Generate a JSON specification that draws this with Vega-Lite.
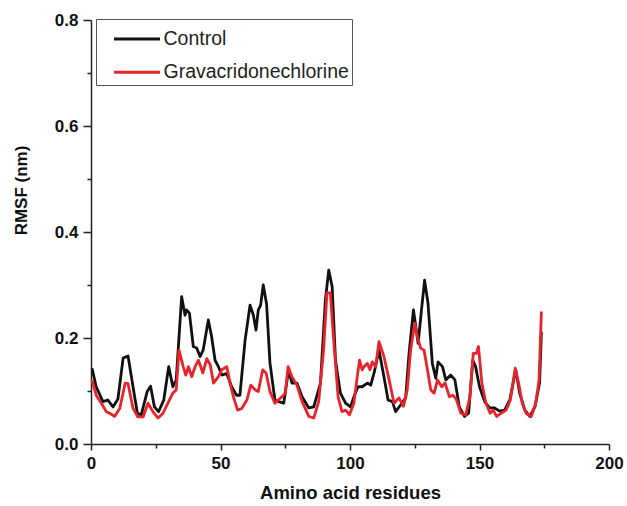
{
  "$schema": "https://vega.github.io/schema/vega-lite/v6.json",
  "width": 518,
  "height": 424,
  "autosize": {"type": "none"},
  "padding": {"left": 91, "top": 20, "right": 18, "bottom": 62},
  "background": "white",
  "config": {
    "view": {"stroke": null},
    "font": "Liberation Sans",
    "axis": {"grid": false, "domainColor": "#222", "domainWidth": 1.5, "tickColor": "#222", "tickWidth": 1.5,
      "labelFont": "Liberation Sans", "labelFontWeight": "bold", "labelFontSize": 17, "labelColor": "#111",
      "labelFlush": false, "labelOverlap": false,
      "titleFont": "Liberation Sans", "titleFontWeight": "bold", "titleColor": "#111"}
  },
  "data": {"values": [
    {"r":0.4,"v":0.143,"s":"Control"},{"r":2,"v":0.108,"s":"Control"},{"r":4.6,"v":0.080,"s":"Control"},{"r":6.5,"v":0.083,"s":"Control"},{"r":8.5,"v":0.070,"s":"Control"},{"r":10.4,"v":0.085,"s":"Control"},{"r":12.4,"v":0.162,"s":"Control"},{"r":14.3,"v":0.166,"s":"Control"},{"r":15.6,"v":0.127,"s":"Control"},{"r":17.9,"v":0.058,"s":"Control"},{"r":19.4,"v":0.055,"s":"Control"},{"r":21.7,"v":0.099,"s":"Control"},{"r":23,"v":0.109,"s":"Control"},{"r":24.5,"v":0.070,"s":"Control"},{"r":26.1,"v":0.061,"s":"Control"},{"r":28.1,"v":0.083,"s":"Control"},{"r":30,"v":0.146,"s":"Control"},{"r":31.6,"v":0.108,"s":"Control"},{"r":32.9,"v":0.121,"s":"Control"},{"r":35,"v":0.278,"s":"Control"},{"r":36.3,"v":0.243,"s":"Control"},{"r":36.9,"v":0.253,"s":"Control"},{"r":38,"v":0.247,"s":"Control"},{"r":39.5,"v":0.184,"s":"Control"},{"r":40.8,"v":0.181,"s":"Control"},{"r":42.1,"v":0.165,"s":"Control"},{"r":43.3,"v":0.177,"s":"Control"},{"r":45.3,"v":0.234,"s":"Control"},{"r":46.6,"v":0.202,"s":"Control"},{"r":47.9,"v":0.158,"s":"Control"},{"r":49.2,"v":0.146,"s":"Control"},{"r":50.5,"v":0.130,"s":"Control"},{"r":52.4,"v":0.133,"s":"Control"},{"r":54.3,"v":0.108,"s":"Control"},{"r":56.2,"v":0.092,"s":"Control"},{"r":57.5,"v":0.092,"s":"Control"},{"r":59.5,"v":0.196,"s":"Control"},{"r":61.4,"v":0.262,"s":"Control"},{"r":62.7,"v":0.243,"s":"Control"},{"r":63.7,"v":0.215,"s":"Control"},{"r":64.6,"v":0.253,"s":"Control"},{"r":65.5,"v":0.262,"s":"Control"},{"r":66.5,"v":0.300,"s":"Control"},{"r":67.8,"v":0.264,"s":"Control"},{"r":69.1,"v":0.153,"s":"Control"},{"r":71,"v":0.083,"s":"Control"},{"r":72.5,"v":0.080,"s":"Control"},{"r":74.4,"v":0.077,"s":"Control"},{"r":76.3,"v":0.140,"s":"Control"},{"r":77.6,"v":0.115,"s":"Control"},{"r":79.5,"v":0.115,"s":"Control"},{"r":81.5,"v":0.089,"s":"Control"},{"r":84.1,"v":0.068,"s":"Control"},{"r":86,"v":0.070,"s":"Control"},{"r":88.6,"v":0.115,"s":"Control"},{"r":90.5,"v":0.272,"s":"Control"},{"r":91.8,"v":0.328,"s":"Control"},{"r":93.1,"v":0.297,"s":"Control"},{"r":94.4,"v":0.158,"s":"Control"},{"r":96.3,"v":0.096,"s":"Control"},{"r":98.3,"v":0.077,"s":"Control"},{"r":100.2,"v":0.070,"s":"Control"},{"r":101.5,"v":0.089,"s":"Control"},{"r":103.1,"v":0.108,"s":"Control"},{"r":104.7,"v":0.108,"s":"Control"},{"r":106.7,"v":0.115,"s":"Control"},{"r":108,"v":0.111,"s":"Control"},{"r":109.3,"v":0.134,"s":"Control"},{"r":111.2,"v":0.177,"s":"Control"},{"r":113.1,"v":0.127,"s":"Control"},{"r":114.7,"v":0.083,"s":"Control"},{"r":116.4,"v":0.080,"s":"Control"},{"r":117.6,"v":0.061,"s":"Control"},{"r":119.6,"v":0.074,"s":"Control"},{"r":121.5,"v":0.087,"s":"Control"},{"r":122.8,"v":0.171,"s":"Control"},{"r":124.5,"v":0.253,"s":"Control"},{"r":126.3,"v":0.190,"s":"Control"},{"r":127.6,"v":0.253,"s":"Control"},{"r":128.8,"v":0.309,"s":"Control"},{"r":130.1,"v":0.266,"s":"Control"},{"r":131.8,"v":0.152,"s":"Control"},{"r":133.1,"v":0.124,"s":"Control"},{"r":134,"v":0.155,"s":"Control"},{"r":135.7,"v":0.146,"s":"Control"},{"r":137,"v":0.121,"s":"Control"},{"r":138.9,"v":0.130,"s":"Control"},{"r":140.5,"v":0.121,"s":"Control"},{"r":142.2,"v":0.070,"s":"Control"},{"r":144.2,"v":0.052,"s":"Control"},{"r":145.8,"v":0.058,"s":"Control"},{"r":147.4,"v":0.158,"s":"Control"},{"r":148.5,"v":0.146,"s":"Control"},{"r":150,"v":0.108,"s":"Control"},{"r":152,"v":0.080,"s":"Control"},{"r":153.9,"v":0.068,"s":"Control"},{"r":155.8,"v":0.068,"s":"Control"},{"r":157.8,"v":0.062,"s":"Control"},{"r":159.7,"v":0.064,"s":"Control"},{"r":161.7,"v":0.083,"s":"Control"},{"r":164,"v":0.140,"s":"Control"},{"r":165.5,"v":0.096,"s":"Control"},{"r":167.5,"v":0.064,"s":"Control"},{"r":169.4,"v":0.052,"s":"Control"},{"r":171.4,"v":0.070,"s":"Control"},{"r":173.2,"v":0.115,"s":"Control"},{"r":173.9,"v":0.212,"s":"Control"},
    {"r":0.4,"v":0.120,"s":"Gravacridonechlorine"},{"r":2,"v":0.092,"s":"Gravacridonechlorine"},{"r":4,"v":0.077,"s":"Gravacridonechlorine"},{"r":5.9,"v":0.061,"s":"Gravacridonechlorine"},{"r":7.2,"v":0.058,"s":"Gravacridonechlorine"},{"r":9.1,"v":0.052,"s":"Gravacridonechlorine"},{"r":11.1,"v":0.067,"s":"Gravacridonechlorine"},{"r":13.2,"v":0.115,"s":"Gravacridonechlorine"},{"r":14.3,"v":0.114,"s":"Gravacridonechlorine"},{"r":16.2,"v":0.068,"s":"Gravacridonechlorine"},{"r":18.1,"v":0.051,"s":"Gravacridonechlorine"},{"r":20.1,"v":0.051,"s":"Gravacridonechlorine"},{"r":22,"v":0.077,"s":"Gravacridonechlorine"},{"r":23.9,"v":0.061,"s":"Gravacridonechlorine"},{"r":25.9,"v":0.049,"s":"Gravacridonechlorine"},{"r":27.8,"v":0.058,"s":"Gravacridonechlorine"},{"r":29.7,"v":0.077,"s":"Gravacridonechlorine"},{"r":31.6,"v":0.096,"s":"Gravacridonechlorine"},{"r":32.9,"v":0.102,"s":"Gravacridonechlorine"},{"r":34,"v":0.177,"s":"Gravacridonechlorine"},{"r":35.6,"v":0.146,"s":"Gravacridonechlorine"},{"r":36.6,"v":0.130,"s":"Gravacridonechlorine"},{"r":37.6,"v":0.146,"s":"Gravacridonechlorine"},{"r":38.9,"v":0.127,"s":"Gravacridonechlorine"},{"r":40.2,"v":0.146,"s":"Gravacridonechlorine"},{"r":41.5,"v":0.158,"s":"Gravacridonechlorine"},{"r":43.2,"v":0.134,"s":"Gravacridonechlorine"},{"r":44.7,"v":0.161,"s":"Gravacridonechlorine"},{"r":46,"v":0.150,"s":"Gravacridonechlorine"},{"r":47.3,"v":0.115,"s":"Gravacridonechlorine"},{"r":49.2,"v":0.127,"s":"Gravacridonechlorine"},{"r":50.5,"v":0.140,"s":"Gravacridonechlorine"},{"r":52.4,"v":0.146,"s":"Gravacridonechlorine"},{"r":53.7,"v":0.115,"s":"Gravacridonechlorine"},{"r":55,"v":0.089,"s":"Gravacridonechlorine"},{"r":56.6,"v":0.064,"s":"Gravacridonechlorine"},{"r":58.2,"v":0.067,"s":"Gravacridonechlorine"},{"r":60.2,"v":0.083,"s":"Gravacridonechlorine"},{"r":61.7,"v":0.111,"s":"Gravacridonechlorine"},{"r":63.4,"v":0.102,"s":"Gravacridonechlorine"},{"r":64.6,"v":0.099,"s":"Gravacridonechlorine"},{"r":66.3,"v":0.140,"s":"Gravacridonechlorine"},{"r":67.6,"v":0.134,"s":"Gravacridonechlorine"},{"r":69.1,"v":0.099,"s":"Gravacridonechlorine"},{"r":71,"v":0.077,"s":"Gravacridonechlorine"},{"r":73.7,"v":0.089,"s":"Gravacridonechlorine"},{"r":75,"v":0.096,"s":"Gravacridonechlorine"},{"r":76.1,"v":0.146,"s":"Gravacridonechlorine"},{"r":77.6,"v":0.127,"s":"Gravacridonechlorine"},{"r":79.5,"v":0.111,"s":"Gravacridonechlorine"},{"r":81.5,"v":0.080,"s":"Gravacridonechlorine"},{"r":84.1,"v":0.052,"s":"Gravacridonechlorine"},{"r":86,"v":0.049,"s":"Gravacridonechlorine"},{"r":87.9,"v":0.080,"s":"Gravacridonechlorine"},{"r":89.8,"v":0.177,"s":"Gravacridonechlorine"},{"r":91.1,"v":0.285,"s":"Gravacridonechlorine"},{"r":92.4,"v":0.285,"s":"Gravacridonechlorine"},{"r":93.7,"v":0.196,"s":"Gravacridonechlorine"},{"r":95.4,"v":0.089,"s":"Gravacridonechlorine"},{"r":96.9,"v":0.061,"s":"Gravacridonechlorine"},{"r":98.3,"v":0.064,"s":"Gravacridonechlorine"},{"r":99.8,"v":0.055,"s":"Gravacridonechlorine"},{"r":101.5,"v":0.077,"s":"Gravacridonechlorine"},{"r":102.8,"v":0.127,"s":"Gravacridonechlorine"},{"r":103.7,"v":0.158,"s":"Gravacridonechlorine"},{"r":104.7,"v":0.140,"s":"Gravacridonechlorine"},{"r":105.4,"v":0.146,"s":"Gravacridonechlorine"},{"r":106.7,"v":0.152,"s":"Gravacridonechlorine"},{"r":107.7,"v":0.140,"s":"Gravacridonechlorine"},{"r":108.6,"v":0.155,"s":"Gravacridonechlorine"},{"r":109.9,"v":0.146,"s":"Gravacridonechlorine"},{"r":111.2,"v":0.193,"s":"Gravacridonechlorine"},{"r":113.1,"v":0.165,"s":"Gravacridonechlorine"},{"r":115.1,"v":0.121,"s":"Gravacridonechlorine"},{"r":117,"v":0.077,"s":"Gravacridonechlorine"},{"r":118.9,"v":0.087,"s":"Gravacridonechlorine"},{"r":120.6,"v":0.071,"s":"Gravacridonechlorine"},{"r":122.1,"v":0.102,"s":"Gravacridonechlorine"},{"r":123.4,"v":0.177,"s":"Gravacridonechlorine"},{"r":125,"v":0.228,"s":"Gravacridonechlorine"},{"r":126,"v":0.202,"s":"Gravacridonechlorine"},{"r":127.3,"v":0.181,"s":"Gravacridonechlorine"},{"r":128.6,"v":0.177,"s":"Gravacridonechlorine"},{"r":129.9,"v":0.140,"s":"Gravacridonechlorine"},{"r":131.2,"v":0.102,"s":"Gravacridonechlorine"},{"r":132.5,"v":0.096,"s":"Gravacridonechlorine"},{"r":133.8,"v":0.121,"s":"Gravacridonechlorine"},{"r":135.4,"v":0.108,"s":"Gravacridonechlorine"},{"r":136.7,"v":0.115,"s":"Gravacridonechlorine"},{"r":138.4,"v":0.089,"s":"Gravacridonechlorine"},{"r":139.7,"v":0.092,"s":"Gravacridonechlorine"},{"r":141,"v":0.085,"s":"Gravacridonechlorine"},{"r":142.8,"v":0.058,"s":"Gravacridonechlorine"},{"r":144.7,"v":0.055,"s":"Gravacridonechlorine"},{"r":146.3,"v":0.089,"s":"Gravacridonechlorine"},{"r":147.6,"v":0.171,"s":"Gravacridonechlorine"},{"r":148.8,"v":0.171,"s":"Gravacridonechlorine"},{"r":149.6,"v":0.184,"s":"Gravacridonechlorine"},{"r":150.9,"v":0.115,"s":"Gravacridonechlorine"},{"r":152.5,"v":0.077,"s":"Gravacridonechlorine"},{"r":154.1,"v":0.058,"s":"Gravacridonechlorine"},{"r":155.3,"v":0.064,"s":"Gravacridonechlorine"},{"r":156.6,"v":0.052,"s":"Gravacridonechlorine"},{"r":158.3,"v":0.058,"s":"Gravacridonechlorine"},{"r":160.3,"v":0.064,"s":"Gravacridonechlorine"},{"r":161.9,"v":0.083,"s":"Gravacridonechlorine"},{"r":163.8,"v":0.143,"s":"Gravacridonechlorine"},{"r":165.1,"v":0.115,"s":"Gravacridonechlorine"},{"r":166.5,"v":0.077,"s":"Gravacridonechlorine"},{"r":168,"v":0.058,"s":"Gravacridonechlorine"},{"r":170,"v":0.052,"s":"Gravacridonechlorine"},{"r":171.7,"v":0.077,"s":"Gravacridonechlorine"},{"r":173,"v":0.121,"s":"Gravacridonechlorine"},{"r":173.9,"v":0.250,"s":"Gravacridonechlorine"}
  ]},
  "mark": {"type": "line", "strokeWidth": 2.8, "strokeJoin": "round", "interpolate": "linear"},
  "encoding": {
    "x": {"field": "r", "type": "quantitative", "scale": {"domain": [0, 200], "nice": false, "zero": false},
      "axis": {"title": "Amino acid residues", "titleFontSize": 18.5, "titlePadding": 12, "labelFontSize": 17, "labelPadding": 5,
        "values": [0,25,50,75,100,125,150,175,200],
        "labelExpr": "datum.value % 50 === 0 ? datum.label : ''",
        "tickSize": {"condition": {"test": "datum.value % 50 === 0", "value": 6}, "value": 4}}},
    "y": {"field": "v", "type": "quantitative", "scale": {"domain": [0, 0.8], "nice": false},
      "axis": {"title": "RMSF (nm)", "titleFontSize": 17, "titleX": -61, "titleY": 170, "labelPadding": 5, "format": ".1f",
        "values": [0,0.1,0.2,0.3,0.4,0.5,0.6,0.7,0.8],
        "labelExpr": "round(datum.value*10) % 2 === 0 ? datum.label : ''",
        "tickSize": {"condition": {"test": "round(datum.value*10) % 2 === 0", "value": 8}, "value": 4}}},
    "color": {"field": "s", "type": "nominal", "sort": ["Control", "Gravacridonechlorine"],
      "scale": {"domain": ["Control", "Gravacridonechlorine"], "range": ["#111111", "#e8232b"]},
      "legend": {"title": null, "orient": "none", "legendX": 5, "legendY": -1,
        "symbolType": "M-1.46,0H1.46", "symbolSize": 992, "symbolStrokeWidth": 2.8,
        "labelFontSize": 19.5, "labelFont": "Liberation Sans", "labelExpr": "datum.label + '\u00a0\u00a0\u00a0'",
        "labelColor": "#222", "labelOffset": 9, "rowPadding": 6.25, "padding": 2.5, "symbolOffset": 21,
        "strokeColor": "#555", "fillColor": "white", "labelLimit": 300}}
  }
}
